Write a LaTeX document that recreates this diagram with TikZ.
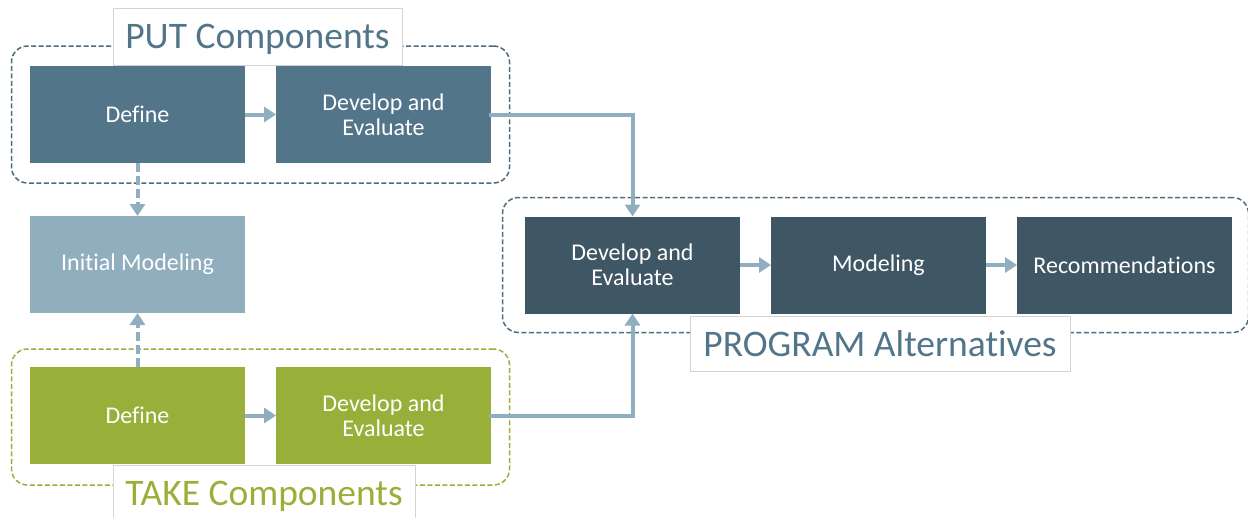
\documentclass[tikz,border=0pt]{standalone}
\usepackage{fontspec}
\setmainfont{Carlito}[Ligatures=NoCommon]
\usepackage{xcolor}
\usetikzlibrary{arrows.meta,positioning,fit}
\definecolor{putblue}{HTML}{52758A}
\definecolor{initblue}{HTML}{91AEBF}
\definecolor{takegreen}{HTML}{98B03A}
\definecolor{progdark}{HTML}{3F5664}
\definecolor{flowblue}{HTML}{8FAEC0}
\definecolor{frameblue}{HTML}{4F6B7D}
\definecolor{labelgray}{HTML}{D4D4D4}

\begin{document}
\begin{tikzpicture}[x=1pt,y=1pt,
	stepbox/.style={rectangle,minimum width=215pt,minimum height=97pt,inner sep=0pt,outer sep=0pt,text=white,align=center,font=\fontsize{24}{25}\selectfont},
	groupbox/.style={draw,dashed,line width=1.5pt,rounded corners=16pt,dash pattern=on 5pt off 2.5pt},
	grouplabel/.style={rectangle,draw=labelgray,line width=0.8pt,fill=white,inner sep=0pt,text depth=0pt,font=\fontsize{37.5}{40}\selectfont},
	flow/.style={draw=flowblue,line width=4pt,-{Triangle[length=12pt,width=15pt]}},
	dashflow/.style={flow,dash pattern=on 9pt off 4pt}]
	\useasboundingbox (0,0) rectangle (1248,-517);

	\begin{scope}[every node/.style={stepbox}]
		\node[fill=putblue] (PUTdef) at (137.5,-114.5) {Define};
		\node[fill=putblue,right=31pt of PUTdef] (PUTdev) {Develop and\\Evaluate};
		\node[fill=initblue,below=53pt of PUTdef] (init) {Initial Modeling};
		\node[fill=takegreen,below=54pt of init] (TAKEdef) {Define};
		\node[fill=takegreen,right=31pt of TAKEdef] (TAKEdev) {Develop and\\Evaluate};
		\node[fill=progdark] (PROGdev) at (632.5,-265) {Develop and\\Evaluate};
		\node[fill=progdark,right=31pt of PROGdev] (PROGmod) {Modeling};
		\node[fill=progdark,right=31pt of PROGmod] (PROGrec) {Recommendations};
	\end{scope}

	\node[groupbox,frameblue,fit=(PUTdef) (PUTdev),inner xsep=18.5pt,inner ysep=20pt] (PUTgroup) {};
	\node[groupbox,takegreen,fit=(TAKEdef) (TAKEdev),inner xsep=18.5pt,inner ysep=19.5pt,yshift=-1.5pt] (TAKEgroup) {};
	\node[groupbox,frameblue,fit=(PROGdev) (PROGrec),inner xsep=19.5pt,inner ysep=19pt,xshift=-3pt] (PROGgroup) {};

	\node[grouplabel,text=putblue,minimum width=289pt,minimum height=57pt] (PUTlabel) at (257.5,-36.5) {PUT Components};
	\node[grouplabel,text=takegreen,minimum width=302pt,minimum height=57pt] (TAKElabel) at (264,-493.5) {TAKE Components};
	\node[grouplabel,text=putblue,minimum width=380pt,minimum height=55pt] (PROGlabel) at (880,-343.5) {PROGRAM Alternatives};

	\begin{scope}
	\draw[flow] (PUTdef) -- (PUTdev);
	\draw[flow] (TAKEdef) -- (TAKEdev);
	\draw[flow] (PROGdev) -- (PROGmod);
	\draw[flow] (PROGmod) -- (PROGrec);
	\draw[dashflow] (PUTdef) -- (init);
	\draw[dashflow] (TAKEdef) -- (init);
	\draw[flow] ([xshift=-2pt]PUTdev.east) -| (PROGdev.north);
	\draw[flow] ([xshift=-2pt]TAKEdev.east) -| (PROGdev.south);
	\end{scope}
\end{tikzpicture}
\end{document}
